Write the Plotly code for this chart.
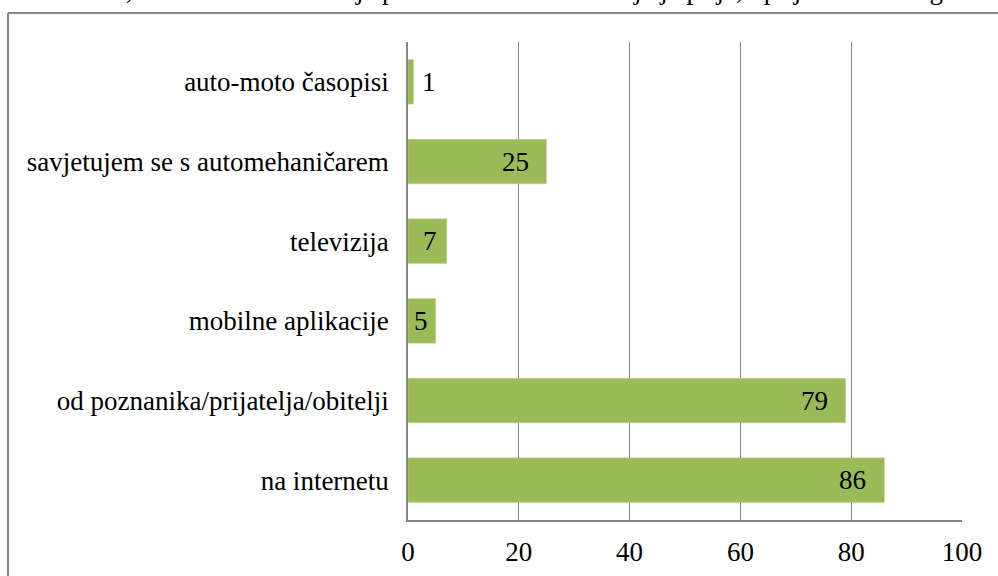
import plotly.graph_objects as go

categories = ["na internetu", "od poznanika/prijatelja/obitelji", "mobilne aplikacije",
              "televizija", "savjetujem se s automehaničarem", "auto-moto časopisi"]
values = [86, 79, 5, 7, 25, 1]
x_ticks = [0, 20, 40, 60, 80, 100]
caption = "Grafikon 6, kako se informirate je potrebne ove informacije je prije, i prije odlaska u garažu"

FONT = "'Times New Roman', 'Liberation Serif', 'DejaVu Serif', serif"
BAR = "#9BBB59"
GRID = "#868686"

L, R, T, B = 408, 36, 42, 56
W, H = 998, 576
PW, PH = W - L - R, H - T - B
px_per_unit = PW / 100.0

fig = go.Figure()
fig.add_trace(go.Bar(
    x=values, y=categories, orientation="h",
    marker=dict(color=BAR, line=dict(color="#C3D69B", width=0.5)),
    width=0.56, hoverinfo="x+y",
))

annotations = []
for c, v in zip(categories, values):
    bar_px = v * px_per_unit
    inside = bar_px > 20
    pad = min(16, 0.2 * bar_px)
    annotations.append(dict(
        x=v, y=c, xref="x", yref="y", text=str(v), showarrow=False,
        xanchor="right" if inside else "left",
        xshift=-pad if inside else 6,
        font=dict(family=FONT, size=27, color="black"),
    ))
annotations.append(dict(
    x=(6 - L) / PW, y=(H - B - 7) / PH, xref="paper", yref="paper",
    xanchor="left", yanchor="bottom", text=caption, showarrow=False,
    font=dict(family=FONT, size=27, color="black"),
))

fig.update_layout(
    width=W, height=H,
    margin=dict(l=L, r=R, t=T, b=B, autoexpand=False),
    paper_bgcolor="white", plot_bgcolor="white",
    showlegend=False,
    bargap=0.44,
    annotations=annotations,
    font=dict(family=FONT, size=27, color="black"),
    xaxis=dict(
        range=[0, 100], tickvals=x_ticks, ticktext=[str(t) for t in x_ticks],
        showgrid=True, gridcolor=GRID, gridwidth=1.3,
        showline=True, linecolor=GRID, linewidth=1.5,
        zeroline=False, ticks="", ticklabelstandoff=7, automargin=False,
        tickfont=dict(family=FONT, size=27, color="black"),
        fixedrange=True,
    ),
    yaxis=dict(
        categoryorder="array", categoryarray=categories,
        showgrid=False, showline=True, linecolor=GRID, linewidth=1.5,
        ticks="", ticklabelstandoff=12, automargin=False,
        tickfont=dict(family=FONT, size=27, color="black"),
        fixedrange=True,
    ),
    shapes=[
        dict(type="line", xref="paper", yref="paper",
             x0=(8 - L) / PW, x1=(W + 2 - L) / PW,
             y0=(H - B - 13) / PH, y1=(H - B - 13) / PH,
             line=dict(color="#888888", width=2)),
        dict(type="line", xref="paper", yref="paper",
             x0=(8 - L) / PW, x1=(8 - L) / PW,
             y0=(H - B - 13) / PH, y1=(H - B - H - 4) / PH,
             line=dict(color="#888888", width=2)),
    ],
)

fig.write_html("out.html", config={"displayModeBar": False},
               post_script="document.body.style.margin='0';document.body.style.overflow='hidden';")
